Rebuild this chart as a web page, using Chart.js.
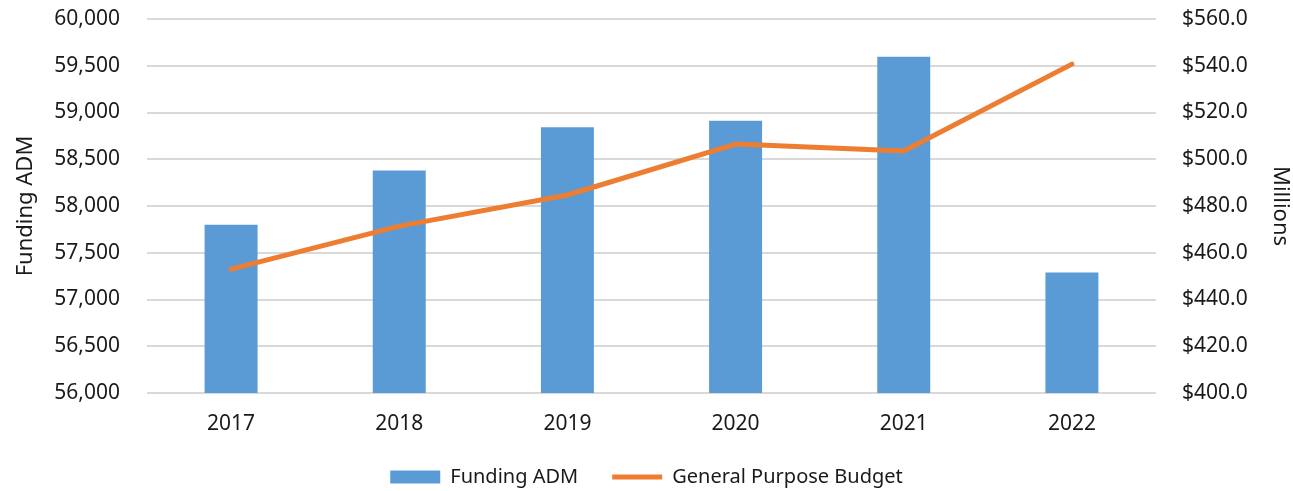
<!DOCTYPE html>
<html>
<head>
<meta charset="utf-8">
<script src="https://cdn.jsdelivr.net/npm/chart.js@4/dist/chart.umd.min.js"></script>
<style>
  html, body { margin: 0; padding: 0; background: #fff; }
  #wrap { width: 1293px; height: 491px; }
</style>
</head>
<body>
<div id="wrap"><canvas id="chart" width="1293" height="491"></canvas></div>
<script>
// ── data ────────────────────────────────────────────────────
const years = ["2017", "2018", "2019", "2020", "2021", "2022"];
const fundingAdm = [57800, 58380, 58842, 58912, 59597, 57288];
const generalBudget = [453.0, 471.4, 484.7, 506.5, 503.5, 540.7];

const TEXT = "#1a1a1a";
const FONT = "'Noto Sans', 'Open Sans', sans-serif";

// legend sits low with wide gaps between items: keep the gap, trim its box
const legendHeight = {
  id: "legendHeight",
  beforeInit(chart) {
    const fit = chart.legend.fit;
    chart.legend.fit = function () {
      fit.bind(chart.legend)();
      this.height = 58;
    };
  },
};

const ctx = document.getElementById("chart").getContext("2d");
new Chart(ctx, {
  data: {
    labels: years,
    datasets: [
      {
        type: "bar",
        label: "Funding ADM",
        data: fundingAdm,
        yAxisID: "y",
        backgroundColor: "#5B9BD5",
        borderWidth: 0,
        barPercentage: 0.315,
        categoryPercentage: 1,
        pointStyle: "rect",
        order: 1,
      },
      {
        type: "line",
        label: "General Purpose Budget",
        data: generalBudget,
        yAxisID: "y1",
        borderColor: "#ED7D31",
        backgroundColor: "#ED7D31",
        borderWidth: 5,
        borderCapStyle: "round",
        borderJoinStyle: "round",
        pointRadius: 0,
        pointStyle: "line",
        tension: 0,
        order: 0,
      },
    ],
  },
  plugins: [legendHeight],
  options: {
    responsive: false,
    animation: false,
    layout: { padding: { top: 19, bottom: 0, left: 0, right: 0 } },
    plugins: {
      tooltip: { enabled: false },
      legend: {
        position: "bottom",
        labels: {
          usePointStyle: true,
          pointStyleWidth: 50,
          boxHeight: 13,
          padding: 34,
          color: TEXT,
          font: { family: FONT, size: 20 },
          sort: (a, b) => a.datasetIndex - b.datasetIndex,
        },
      },
    },
    scales: {
      x: {
        grid: { display: false },
        border: { display: false },
        ticks: { color: TEXT, font: { family: FONT, size: 21 }, padding: 10 },
        afterFit(axis) { axis.height = 40; },
      },
      y: {
        position: "left",
        min: 56000,
        max: 60000,
        ticks: {
          stepSize: 500,
          padding: 0,
          color: TEXT,
          font: { family: FONT, size: 21 },
          callback: v => v.toLocaleString("en-US"),
        },
        // invisible tick marks give the label gap without padding the top
        grid: { color: "#d9d9d9", lineWidth: 2, tickLength: 27, tickColor: "rgba(0,0,0,0)" },
        border: { display: false },
        title: {
          display: true,
          text: "Funding ADM",
          color: TEXT,
          font: { family: FONT, size: 22 },
          padding: { top: 13, bottom: 0 },
        },
        afterFit(axis) { axis.width = 147; },
      },
      y1: {
        position: "right",
        min: 400,
        max: 560,
        ticks: {
          stepSize: 20,
          padding: 0,
          color: TEXT,
          font: { family: FONT, size: 21 },
          callback: v => "$" + v.toFixed(1),
        },
        grid: { drawOnChartArea: false, tickLength: 26, tickColor: "rgba(0,0,0,0)" },
        border: { display: false },
        title: {
          display: true,
          text: "Millions",
          color: TEXT,
          font: { family: FONT, size: 22 },
          padding: 0,
        },
        afterFit(axis) { axis.width = 137; },
      },
    },
  },
});
</script>
</body>
</html>
